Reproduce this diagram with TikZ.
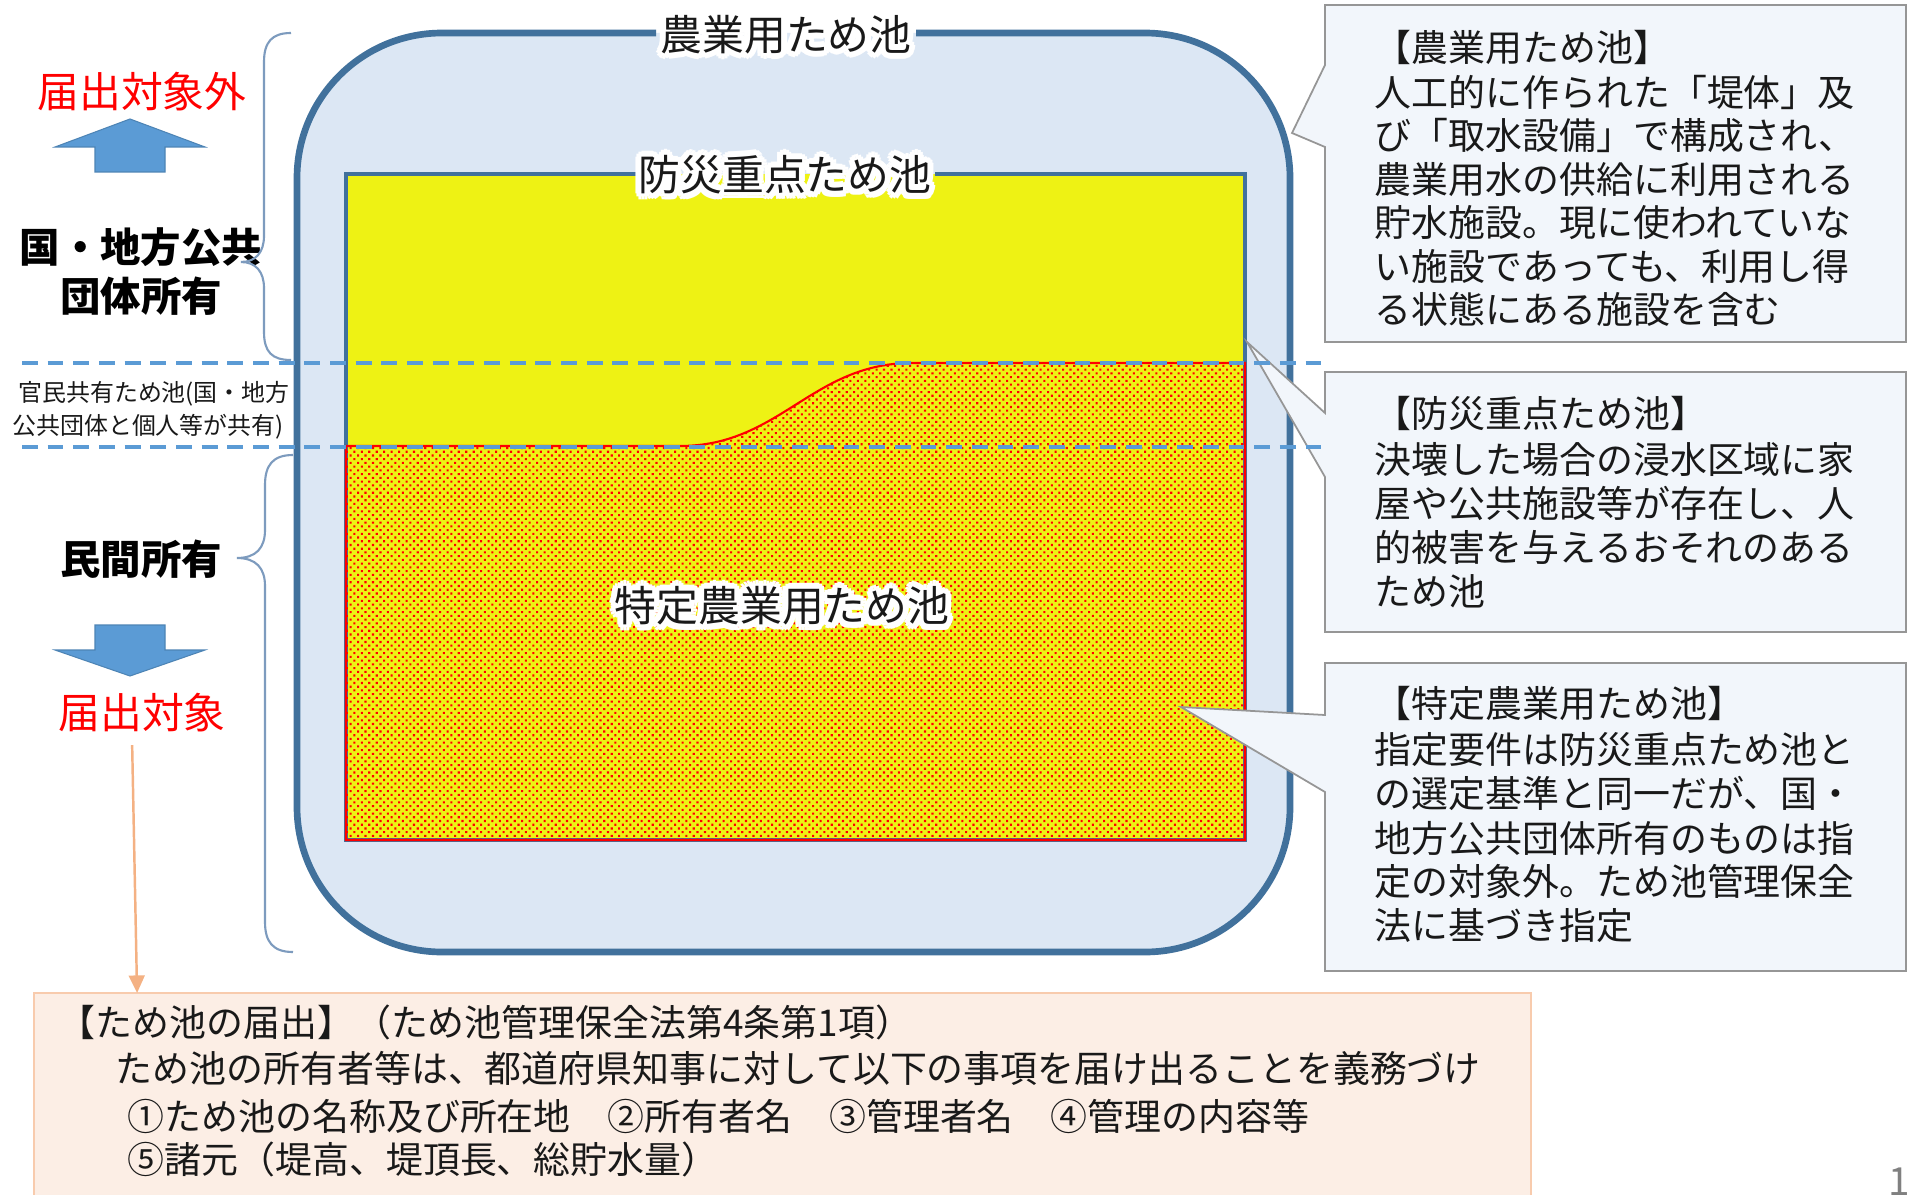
\documentclass[tikz,border=0pt]{standalone}
\usepackage{fontspec}
\setmainfont{Noto Sans CJK JP}
\usetikzlibrary{patterns.meta, arrows.meta}

\definecolor{outerfill}{RGB}{220,231,244}
\definecolor{outerline}{RGB}{65,113,156}
\definecolor{pondyellow}{RGB}{238,242,20}
\definecolor{dashblue}{RGB}{91,155,213}
\definecolor{arrowblue}{RGB}{91,155,213}
\definecolor{callfill}{RGB}{242,246,251}
\definecolor{callline}{RGB}{150,150,150}
\definecolor{pinkfill}{RGB}{252,238,229}
\definecolor{pinkline}{RGB}{248,203,173}
\definecolor{orangearrow}{RGB}{244,177,131}
\definecolor{bracecol}{RGB}{125,155,190}
\definecolor{txtred}{RGB}{255,0,0}
\definecolor{txt}{RGB}{25,25,25}

\newcommand\glowtxt[1]{%
  \foreach \gr in {0.8,1.7}{%
    \foreach \ga in {0,30,...,330}{%
      \rlap{\hspace*{\fpeval{\gr*cosd(\ga)}pt}\raisebox{\fpeval{\gr*sind(\ga)}pt}{\color{white}#1}}%
    }%
  }%
  #1}

\begin{document}
\begin{tikzpicture}[x=0.01cm, y=-0.01cm,
  lbl/.style={inner sep=0pt, text=txt, font=\fontsize{11.9pt}{14pt}\selectfont},
  bodytxt/.style={anchor=west, inner sep=0pt, text=txt, font=\fontsize{10.5pt}{12pt}\selectfont, text height=9.2pt, text depth=1.3pt},
  owner/.style={inner sep=0pt, text=black, font=\fontsize{11.5pt}{14pt}\selectfont\bfseries},
  redlbl/.style={inner sep=0pt, text=txtred, font=\fontsize{11.9pt}{14pt}\selectfont},
  smalltxt/.style={inner sep=0pt, text=txt, font=\fontsize{6.8pt}{8pt}\selectfont},
  callout/.style={fill=callfill, draw=callline, line width=0.5pt},
  dashline/.style={draw=dashblue, line width=1.15pt, dash pattern=on 4.5pt off 2.8pt},
  bracestyle/.style={draw=bracecol, line width=0.6pt},
  blockarrow/.style={fill=arrowblue, draw=arrowblue!85!black, line width=0.3pt},
  pinkbox/.style={fill=pinkfill, draw=pinkline, line width=0.7pt, inner sep=0pt, outer sep=0pt},
]
\useasboundingbox (0,0) rectangle (1910,1194);
\fill[white] (0,0) rectangle (1910,1194);

% outer pond (agricultural)
\fill[outerfill, rounded corners=1.45cm] (297,33) rectangle (1290,952);
\draw[outerline, line width=1.9pt, rounded corners=1.45cm]
  (916,33) -- (1290,33) -- (1290,952) -- (297,952) -- (297,33) -- (656,33);

% inner rectangle (disaster-prevention)
\fill[pondyellow] (346,174) rectangle (1245,840);
\draw[outerline, line width=0.9pt]
  (935,174) -- (1245,174) -- (1245,840) -- (346,840) -- (346,174) -- (636,174);

% specified region
\path[pattern={Dots[radius=0.42pt, distance=1.5pt, angle=45]}, pattern color=red,
      draw=red, line width=0.6pt]
  (346,840) -- (346,446) -- (680,446) .. controls (780,446) and (812,363) .. (912,363)
  -- (1245,363) -- (1245,840) -- cycle;

% labels in the pond
\node[lbl] (lblA) at (786,35) {\glowtxt{農業用ため池}};
\node[lbl] (lblB) at (785,175) {\glowtxt{防災重点ため池}};
\node[lbl] (lblC) at (782,606) {\glowtxt{特定農業用ため池}};

% left side
\node[redlbl] (gai) at (142,92) {届出対象外};
\fill[blockarrow] (130,119) -- (205,147) -- (165,147) -- (165,172) -- (95,172) -- (95,147) -- (55,147) -- cycle;
\node[owner] (kuni1) at (141,247) {国・地方公共};
\node[owner] (kuni2) at (141,296) {団体所有};
\draw[bracestyle] (291,33) .. controls (272,33) and (264,42) .. (264,62) -- (264,236)
  .. controls (264,252) and (256,262) .. (241,262)
  .. controls (256,262) and (264,272) .. (264,288) -- (264,332)
  .. controls (264,352) and (272,360) .. (291,360);
\node[smalltxt] (kan1) at (154,394) {官民共有ため池(国・地方};
\node[smalltxt] (kan2) at (148,427) {公共団体と個人等が共有)};
\node[owner] (min) at (141,559) {民間所有};
\draw[bracestyle] (293,455) .. controls (273,455) and (265,465) .. (265,485) -- (265,530)
  .. controls (265,548) and (256,558) .. (237,558)
  .. controls (256,558) and (265,568) .. (265,586) -- (265,922)
  .. controls (265,942) and (273,952) .. (293,952);
\fill[blockarrow] (95,625) -- (165,625) -- (165,650) -- (205,650) -- (130,676) -- (55,650) -- (95,650) -- cycle;
\node[redlbl] (tgt) at (142,713) {届出対象};

% callouts
\draw[callout] (1325,5) -- (1906,5) -- (1906,342) -- (1325,342) -- (1325,147) -- (1292,133) -- (1325,65) -- cycle;
\node[bodytxt] (c1t) at (1374,48) {【農業用ため池】};
\node[bodytxt] (c1a) at (1374,93) {人工的に作られた「堤体」及};
\node[bodytxt] (c1b) at (1374,136) {び「取水設備」で構成され、};
\node[bodytxt] (c1c) at (1374,180) {農業用水の供給に利用される};
\node[bodytxt] (c1d) at (1374,223) {貯水施設。現に使われていな};
\node[bodytxt] (c1e) at (1374,267) {い施設であっても、利用し得};
\node[bodytxt] (c1f) at (1374,310) {る状態にある施設を含む};

\draw[callout] (1325,372) -- (1906,372) -- (1906,632) -- (1325,632) -- (1325,477) -- (1247,342) -- (1325,413) -- cycle;
\node[bodytxt] (c2t) at (1374,414) {【防災重点ため池】};
\node[bodytxt] (c2a) at (1374,460) {決壊した場合の浸水区域に家};
\node[bodytxt] (c2b) at (1374,504) {屋や公共施設等が存在し、人};
\node[bodytxt] (c2c) at (1374,548) {的被害を与えるおそれのある};
\node[bodytxt] (c2d) at (1374,592) {ため池};

\draw[callout] (1325,663) -- (1906,663) -- (1906,971) -- (1325,971) -- (1325,792) -- (1181,707) -- (1325,715) -- cycle;
\node[bodytxt] (c3t) at (1374,704) {【特定農業用ため池】};
\node[bodytxt] (c3a) at (1374,750) {指定要件は防災重点ため池と};
\node[bodytxt] (c3b) at (1374,794) {の選定基準と同一だが、国・};
\node[bodytxt] (c3c) at (1374,839) {地方公共団体所有のものは指};
\node[bodytxt] (c3d) at (1374,882) {定の対象外。ため池管理保全};
\node[bodytxt] (c3e) at (1374,926) {法に基づき指定};

% dashed ownership boundaries
\draw[dashline] (22,363) -- (1328,363);
\draw[dashline] (22,447) -- (1328,447);

% notification box
\node[pinkbox, anchor=north west, minimum width=14.96cm, minimum height=2.3cm] (todoke) at (34,993) {};
\node[bodytxt] (p1) at (58,1023) {【ため池の届出】（ため池管理保全法第4条第1項）};
\node[bodytxt] (p2) at (115,1069) {ため池の所有者等は、都道府県知事に対して以下の事項を届け出ることを義務づけ};
\node[bodytxt] (p3) at (127,1117) {①ため池の名称及び所在地　②所有者名　③管理者名　④管理の内容等};
\node[bodytxt] (p4) at (127,1160) {⑤諸元（堤高、堤頂長、総貯水量）};

\draw[orangearrow, line width=0.7pt, -{Triangle[length=5pt, width=4.5pt]}]
  ([xshift=-2.8pt, yshift=-3.4pt]tgt.south) -- ([xshift=-1.4pt]tgt.south |- todoke.north);

% page number
\node[anchor=west, inner sep=0pt, text=gray, font=\fontsize{11pt}{13pt}\selectfont] (pgno) at (1888,1182) {10};
\end{tikzpicture}
\end{document}
